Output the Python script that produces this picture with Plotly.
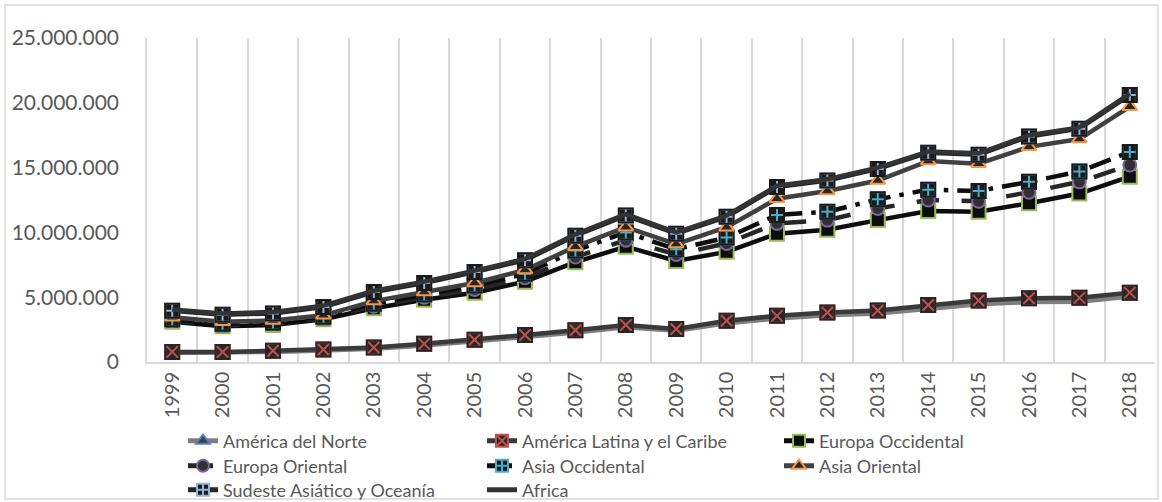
import plotly.graph_objects as go

years = ["1999", "2000", "2001", "2002", "2003", "2004", "2005", "2006", "2007", "2008",
         "2009", "2010", "2011", "2012", "2013", "2014", "2015", "2016", "2017", "2018"]

america_norte = [700000, 700000, 780000, 880000, 1020000, 1280000, 1580000, 1920000, 2280000, 2680000,
                 2420000, 2980000, 3350000, 3600000, 3750000, 4120000, 4450000, 4620000, 4650000, 5050000]
america_latina = [780000, 770000, 870000, 970000, 1120000, 1400000, 1720000, 2080000, 2450000, 2850000,
                  2550000, 3180000, 3560000, 3820000, 3980000, 4400000, 4750000, 4920000, 4950000, 5350000]
europa_occ = [3100000, 2750000, 2850000, 3300000, 4150000, 4800000, 5350000, 6200000, 7700000, 8900000,
              7800000, 8500000, 9900000, 10200000, 10950000, 11650000, 11600000, 12250000, 13000000, 14300000]
europa_or = [3200000, 2850000, 2950000, 3400000, 4300000, 5000000, 5600000, 6500000, 8100000, 9400000,
             8300000, 9150000, 10700000, 10950000, 11850000, 12500000, 12400000, 13100000, 13900000, 15200000]
asia_occ = [3300000, 2950000, 3050000, 3500000, 4500000, 5200000, 5900000, 6800000, 8600000, 10000000,
            8700000, 9600000, 11350000, 11600000, 12550000, 13300000, 13200000, 13900000, 14700000, 16200000]
asia_or = [3450000, 3100000, 3200000, 3600000, 4700000, 5400000, 6100000, 7100000, 8900000, 10400000,
           9100000, 10400000, 12600000, 13200000, 14000000, 15500000, 15300000, 16600000, 17200000, 19700000]
sudeste = [3950000, 3650000, 3750000, 4250000, 5400000, 6100000, 6950000, 7850000, 9750000, 11300000,
           9900000, 11200000, 13500000, 14000000, 14900000, 16150000, 16000000, 17400000, 18000000, 20600000]
africa = [4050000, 3750000, 3850000, 4350000, 5500000, 6200000, 7050000, 7950000, 9850000, 11400000,
          10000000, 11300000, 13600000, 14100000, 15000000, 16250000, 16100000, 17500000, 18100000, 20700000]

names = ["América del Norte", "América Latina y el Caribe", "Europa Occidental", "Europa Oriental",
         "Asia Occidental", "Asia Oriental", "Sudeste Asiático y Oceanía", "Africa"]

FONT = "Lato"
TXT = "#595959"
LW = 4.5
W, H = 1162, 502

fig = go.Figure()


def add(idx, y, lcolor, dash, symbol, mfill, mline, size, overlay_open=None):
    name = names[idx]
    leg = "legend" if idx == 0 else "legend%d" % (idx + 1)
    fig.add_trace(go.Scatter(
        x=years, y=y, name=name, mode="lines+markers" if symbol else "lines",
        line=dict(color=lcolor, width=LW, dash=dash),
        marker=dict(symbol=symbol or "circle", color=mfill, size=size,
                    line=dict(color=mline, width=2)),
        legendgroup=name, legend=leg,
    ))
    if overlay_open:
        fig.add_trace(go.Scatter(
            x=years, y=y, mode="markers", showlegend=False, legendgroup=name, hoverinfo="skip",
            marker=dict(symbol="square-open", color=overlay_open, size=size, line=dict(width=2)),
        ))


add(0, america_norte, "#7F7F7F", "solid", "triangle-up", "#404040", "#4F81BD", 12)
add(1, america_latina, "#3A3A3A", "solid", "square-x", "#262626", "#C0504D", 14, "#262626")
add(2, europa_occ, "#0D0D0D", "solid", "square", "#0D0D0D", "#9BBB59", 14)
add(3, europa_or, "#262626", "longdash", "circle", "#303030", "#8064A2", 13)
add(4, asia_occ, "#0D0D0D", "longdashdot", "square-cross", "#1A1A1A", "#4BACC6", 14, "#1A1A1A")
add(5, asia_or, "#404040", "solid", "triangle-up", "#262626", "#F79646", 13)
add(6, sudeste, "#262626", "solid", "square-cross", "#1A1A1A", "#95B3D7", 14, "#1A1A1A")
add(7, africa, "#333333", "solid", None, "#333333", "#333333", 1)

# legend entry positions: (text left x, row centre y) in pixels
leg_text_x = [224, 523, 820, 224, 523, 820, 224, 523]
leg_row_y = [441, 441, 441, 466, 466, 466, 490, 490]

legends = {}
for i in range(8):
    key = "legend" if i == 0 else "legend%d" % (i + 1)
    legends[key] = dict(
        x=(leg_text_x[i] - 41) / W, y=1 - leg_row_y[i] / H, xref="container", yref="container",
        xanchor="left", yanchor="middle", orientation="h",
        font=dict(family=FONT, size=18, color=TXT), itemsizing="constant",
        bgcolor="rgba(0,0,0,0)", borderwidth=0,
    )

fig.update_layout(
    width=W, height=H,
    margin=dict(l=147, r=7, t=38, b=140, autoexpand=False),
    paper_bgcolor="white", plot_bgcolor="white",
    font=dict(family=FONT, color=TXT, size=19),
    showlegend=True,
    xaxis=dict(type="category", tickson="boundaries", showgrid=True, gridcolor="#D9D9D9", gridwidth=1.5,
               showline=True, linecolor="#D9D9D9", linewidth=1.5, ticks="", tickangle=-90,
               tickfont=dict(family=FONT, size=20, color=TXT), range=[-0.5, 19.5]),
    yaxis=dict(range=[0, 25000000], tickvals=[0, 5000000, 10000000, 15000000, 20000000, 25000000],
               ticktext=["0", "5.000.000", "10.000.000", "15.000.000", "20.000.000", "25.000.000"],
               showgrid=False, zeroline=False, showline=True, linecolor="#D9D9D9", linewidth=1.5,
               ticks="", ticklabelstandoff=22, tickfont=dict(family=FONT, size=21, color=TXT)),
    shapes=[dict(type="rect", xref="paper", yref="paper", x0=-0.1409, x1=1.0029, y0=-0.4228, y1=1.1019,
                 line=dict(color="#D9D9D9", width=1.5), fillcolor="rgba(0,0,0,0)", layer="below")],
    **legends,
)

fig.write_html("out.html")
